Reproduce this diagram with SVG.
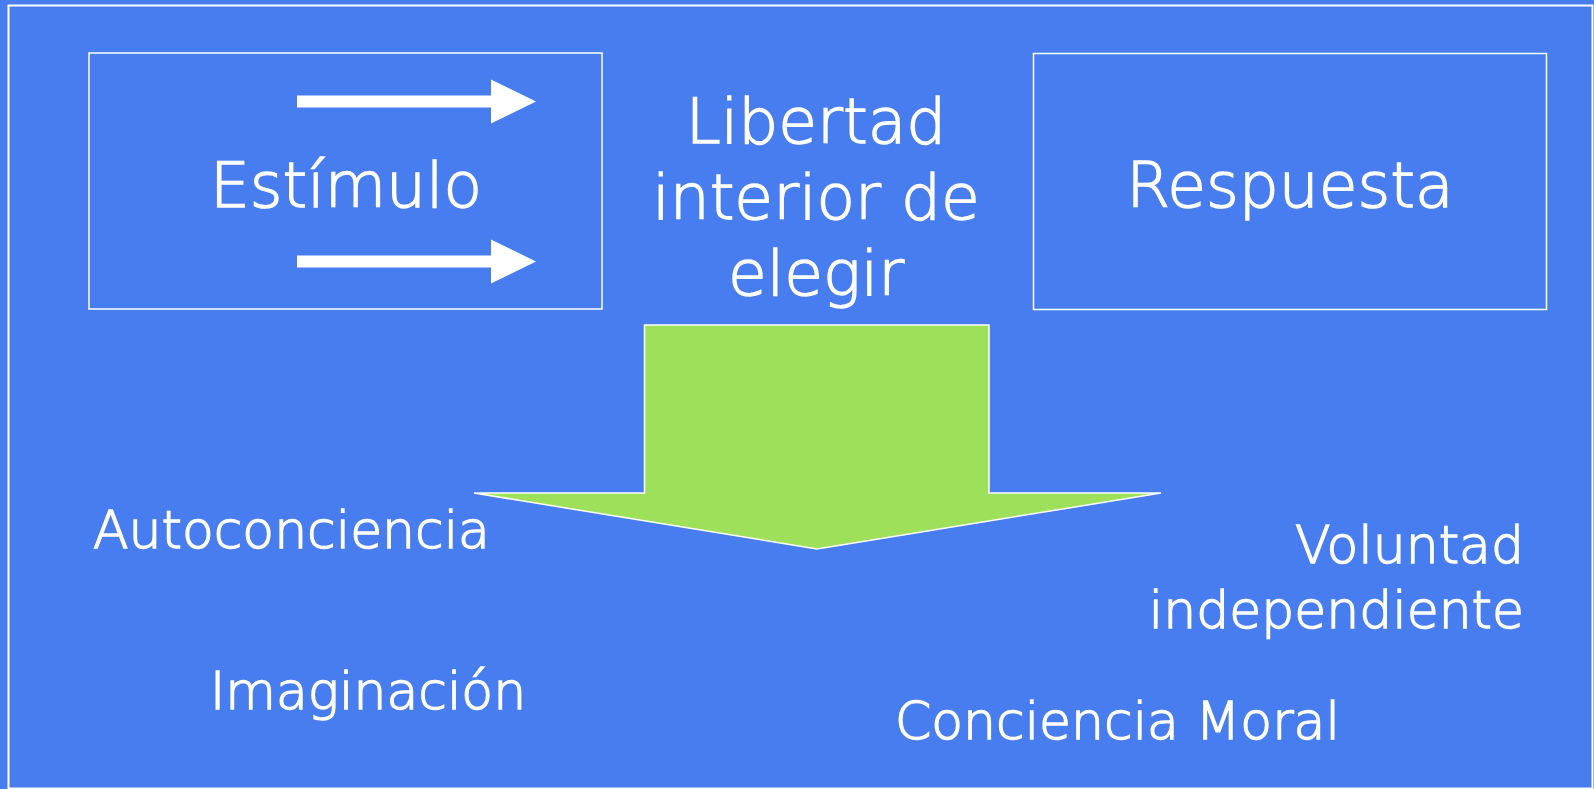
<svg xmlns="http://www.w3.org/2000/svg" width="1594" height="789" viewBox="0 0 1594 789">
<style>
.t{font-family:"DejaVu Sans","Verdana",sans-serif;font-weight:200;fill:#fff;stroke:#fff;stroke-width:1.4}
.box{fill:none;stroke:#fff;stroke-width:1.5}
</style>
<defs>
<path id="wa" d="M0,-6 L194,-6 L194,-22 L239,0 L194,22 L194,6 L0,6 Z" fill="#fff"/>
</defs>
<rect width="1594" height="789" fill="#487DF0"/>
<rect x="8.5" y="5.5" width="1584" height="783" fill="none" stroke="#fff" stroke-width="2"/>
<g id="estimulo">
<rect class="box" x="89" y="53" width="513" height="256"/>
<text class="t" x="346" y="207" font-size="63" text-anchor="middle">Estímulo</text>
</g>
<g id="connectors">
<use href="#wa" x="297" y="101.5"/>
<use href="#wa" x="297" y="261.5"/>
</g>
<g id="libertad">
<text class="t" font-size="63" text-anchor="middle"><tspan x="816" y="143">Libertad</tspan><tspan x="816" y="219">interior de</tspan><tspan x="816" y="295">elegir</tspan></text>
</g>
<g id="respuesta">
<rect class="box" x="1033.5" y="53.5" width="513" height="256"/>
<text class="t" x="1290" y="207" font-size="63" text-anchor="middle">Respuesta</text>
</g>
<g id="green-arrow">
<polygon points="644.5,325 989,325 989,493 1161,493 817,549 474,493 644.5,493" fill="#9FE05A" stroke="#fff" stroke-width="1.5" stroke-linejoin="miter"/>
</g>
<g id="autoconciencia"><text class="t" x="93" y="548" font-size="52">Autoconciencia</text></g>
<g id="imaginacion"><text class="t" x="210" y="709" font-size="52">Imaginación</text></g>
<g id="voluntad"><text class="t" font-size="52" text-anchor="end"><tspan x="1524" y="563">Voluntad</tspan><tspan x="1524" y="628">independiente</tspan></text></g>
<g id="conciencia"><text class="t" x="895" y="739" font-size="52">Conciencia Moral</text></g>
</svg>
